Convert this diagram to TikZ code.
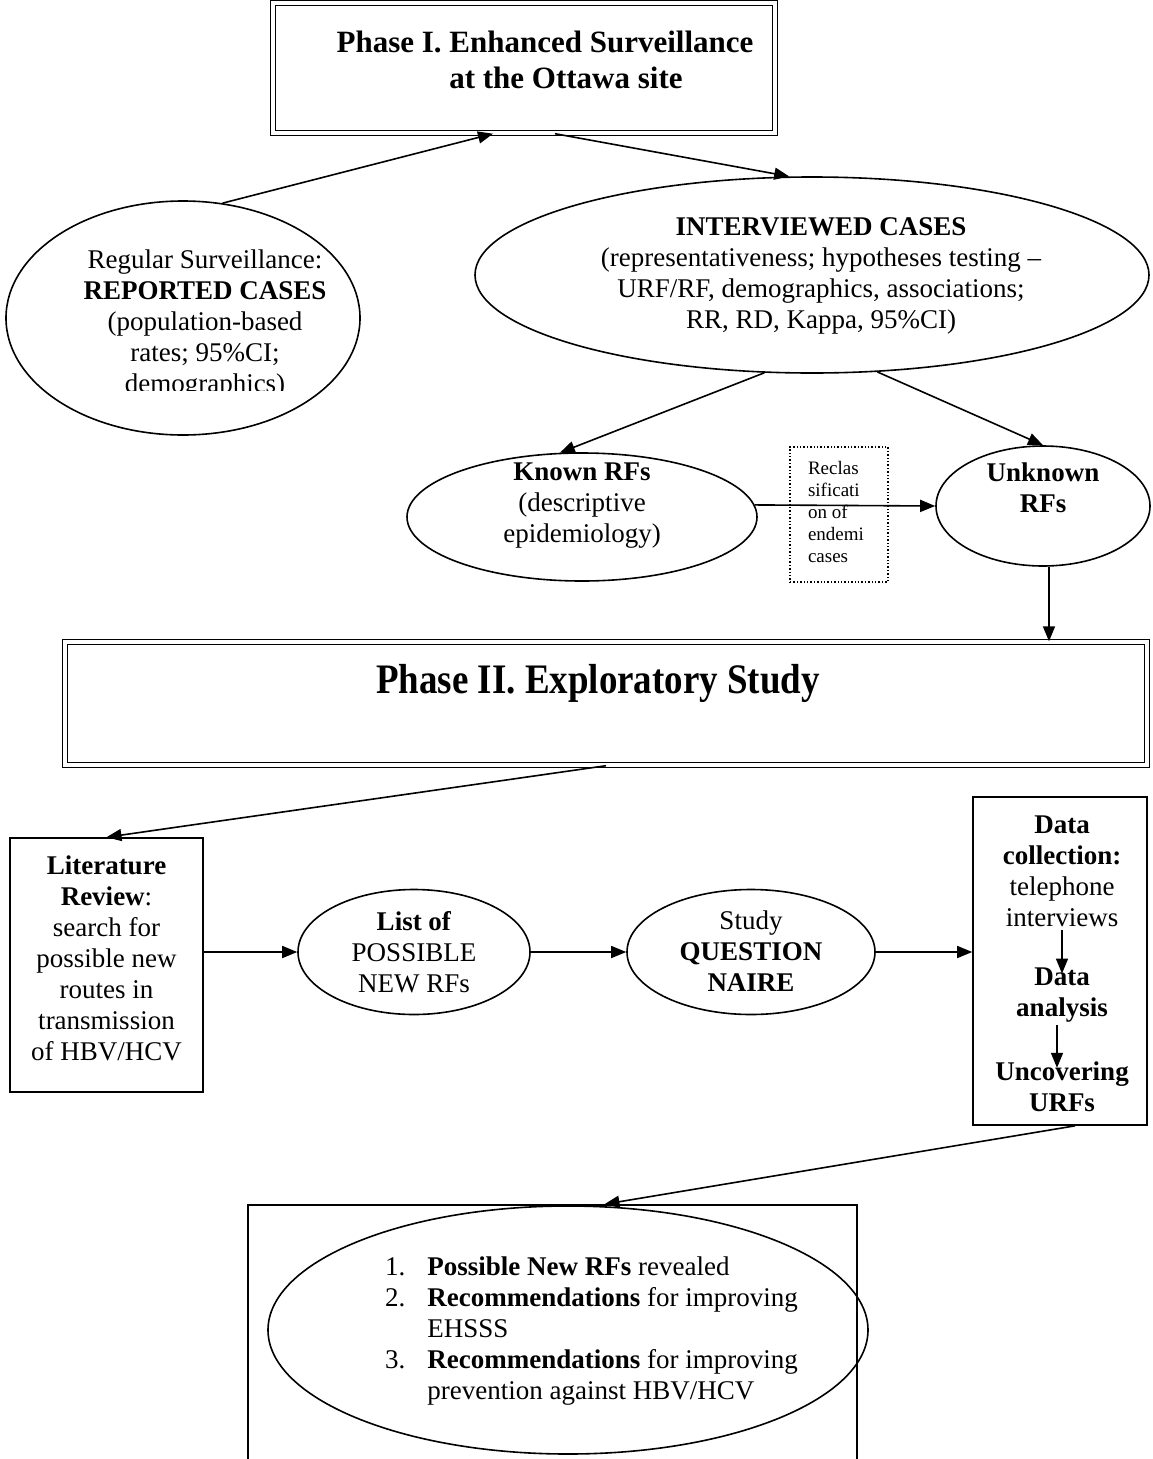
\documentclass[tikz,border=0pt]{standalone}
\usepackage{fontspec}
\setmainfont{Liberation Serif}
\usetikzlibrary{shapes.geometric,arrows.meta}
\tikzset{
  txt/.style={font=\fontsize{27}{31}\selectfont, align=center, inner sep=0pt},
  smalltxt/.style={font=\fontsize{19}{22}\selectfont, align=left, inner sep=0pt},
  titletxt/.style={font=\fontsize{31}{36}\selectfont\bfseries, align=center, inner sep=0pt},
  ell/.style={draw, ellipse, line width=1.6pt, inner sep=0pt},
  box/.style={draw, rectangle, line width=1.6pt, inner sep=0pt},
  dblbox/.style={draw, rectangle, line width=1.4pt, double, double distance=3.5pt, inner sep=0pt},
  dotbox/.style={draw, rectangle, line width=1.4pt, dotted, inner sep=0pt},
  con/.style={line width=1.6pt, -{Triangle[length=15pt,width=12pt]}},
}
\begin{document}
\begin{tikzpicture}[x=1pt,y=-1pt]
\useasboundingbox (0,0) rectangle (1152,1459);
\fill[white] (0,0) rectangle (1152,1459);
\clip (0,0) rectangle (1152,1459);

% Phase I box
\node[dblbox, minimum width=502pt, minimum height=130pt] (top) at (524,68) {};
\node[titletxt] (toptxt) at (545,60) {Phase I. Enhanced Surveillance\\\hspace*{42pt}at the Ottawa site};

% Regular surveillance ellipse
\node[ell, minimum width=354pt, minimum height=234pt] (reg) at (183,318) {};
\begin{scope}
\clip (0,0) rectangle (1152,390);
\node[txt] (regtxt) at (205,324) {Regular Surveillance:\\\textbf{REPORTED CASES}\\(population-based\\rates; 95\%CI;\\demographics)};
\end{scope}

% Interviewed cases
\node[ell, minimum width=674pt, minimum height=196pt] (int) at (812,275) {};
\node[txt] (inttxt) at (821,276) {\textbf{INTERVIEWED CASES}\\(representativeness; hypotheses testing –\\URF/RF, demographics, associations;\\RR, RD, Kappa, 95\%CI)};

% Known / Unknown RFs
\node[ell, minimum width=350pt, minimum height=128pt] (known) at (582,517) {};
\node[txt] (knowntxt) at (582,506) {\textbf{Known RFs}\\(descriptive\\epidemiology)};
\node[ell, minimum width=214pt, minimum height=120pt] (unk) at (1043,506) {};
\node[txt] (unktxt) at (1043,488) {\textbf{Unknown}\\\textbf{RFs}};

% Reclassification box
\node[dotbox, minimum width=98pt, minimum height=135pt] (recl) at (839,514.5) {};
\node[smalltxt] (recltxt) at (836,512) {Reclas\\sificati\\on of\\endemi\\cases};

% Phase II box
\node[dblbox, minimum width=1082pt, minimum height=123pt] (p2) at (606,703.5) {};
\node[inner sep=0pt, font=\fontsize{42}{48}\selectfont\bfseries] (p2txt) at (598,683) {\scalebox{0.88}[1]{Phase II. Exploratory Study}};

% Literature review
\node[box, minimum width=193pt, minimum height=254pt] (lit) at (106.5,965) {};
\node[txt] (littxt) at (106.5,958) {\textbf{Literature}\\\textbf{Review}:\\search for\\possible new\\routes in\\transmission\\of HBV/HCV};

% List of possible new RFs
\node[ell, minimum width=232pt, minimum height=125pt] (list) at (414,952) {};
\node[txt] (listtxt) at (414,952) {\textbf{List of}\\POSSIBLE\\NEW RFs};

% Questionnaire
\node[ell, minimum width=248pt, minimum height=125pt] (quest) at (751,952) {};
\node[txt] (questtxt) at (751,951) {Study\\\textbf{QUESTION}\\\textbf{NAIRE}};

% Data box
\node[box, minimum width=174pt, minimum height=328pt] (data) at (1060,961) {};
\node[txt] (d1) at (1062,871) {\textbf{Data}\\\textbf{collection:}\\telephone\\interviews};
\node[txt] (d2) at (1062,995) {\textbf{Data}\\\textbf{analysis}};
\node[txt] (d3) at (1062,1087) {\textbf{Uncovering}\\\textbf{URFs}};

% Bottom box and ellipse
\node[box, minimum width=609pt, minimum height=270pt] (bot) at (552.5,1340) {};
\node[ell, minimum width=600pt, minimum height=248pt] (botell) at (568,1330) {};
\node[txt, anchor=west, align=left] (bottxt) at (385,1331) {%
\begin{tabular}{@{}r@{\hspace{22pt}}l@{}}
1. & \textbf{Possible New RFs} revealed\\
2. & \textbf{Recommendations} for improving\\
   & EHSSS\\
3. & \textbf{Recommendations} for improving\\
   & prevention against HBV/HCV
\end{tabular}};

% Connectors
\draw[con] (reg.71) -- ([xshift=-31pt]top.south);
\draw[con] ([xshift=31pt]top.south) -- (int.103);
\draw[con] (int.244) -- (known.109);
\draw[con] (int.304) -- (unk.north);
\draw[con] (known.4) -- (unk.180);
\draw[con] ([xshift=6pt]unk.south) -- ([xshift=6pt]unk.south |- p2.north);
\draw[con] (p2.south) -- (lit.north);
\draw[con] ([yshift=13pt]lit.east) -- (list.west);
\draw[con] (list.east) -- (quest.west);
\draw[con] (quest.east) -- (quest.east -| data.west);
\draw[con] ([yshift=-3pt]d1.south) -- ([yshift=-6pt]d2.north);
\draw[con] ([xshift=-5pt,yshift=-3pt]d2.south) -- ([xshift=-5pt,yshift=-6pt]d3.north);
\draw[con] ([xshift=15pt]data.south) -- ([xshift=52pt]bot.north);
\end{tikzpicture}
\end{document}
